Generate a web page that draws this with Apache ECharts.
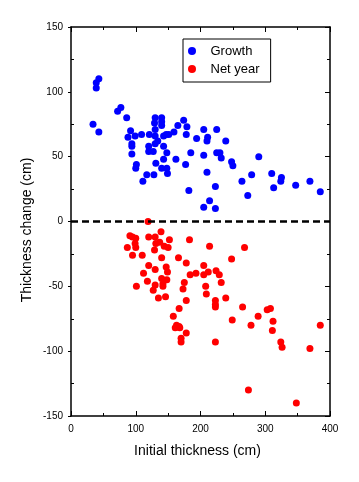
<!DOCTYPE html>
<html>
<head>
<meta charset="utf-8">
<script src="https://cdn.jsdelivr.net/npm/echarts@6/dist/echarts.min.js"></script>
<style>
html,body{margin:0;padding:0;background:#fff;}
#c{width:359px;height:482px;}
</style>
</head>
<body>
<div id="c"></div>
<script>
var xTicks = [0, 100, 200, 300, 400];
var yTicks = [-150, -100, -50, 0, 50, 100, 150];
var xTitle = 'Initial thickness (cm)';
var yTitle = 'Thickness change (cm)';

var growth = [
  [43,110],[39,107],[39,103],
  [77,88],[72,85],[86,80],
  [34,75],[43,69],
  [92,70],[88,65],[99,66],[109,67],[121,67],
  [130,80],[129,76],[130,71],[130,66],
  [140,80],[140,77],[140,74],
  [165,74],[174,78],[179,73],[159,69],[143,66],[147,67],[151,67],[178,67],
  [205,71],[194,64],[211,65],[225,71],[239,62],[210,62],
  [94,60],[94,58],[94,52],[120,58],[120,54],[127,54],[130,60],[134,62],
  [143,58],[148,53],[131,45],[143,48],[162,48],[185,53],[205,51],[177,44],
  [101,44],[100,41],[140,41],[148,41],[149,37],[117,36],[128,36],[111,31],
  [210,38],[182,24],[214,16],[205,11],
  [225,53],[230,53],[232,49],[248,46],[250,43],[290,50],[223,27],[264,31],
  [279,36],[310,37],[325,34],[324,31],[313,26],[347,28],[369,31],[385,23],
  [273,20],[223,10]
];

var netYear = [
  [119,0],[91,-11],[95,-12],[100,-13],[99,-17],[100,-20],[87,-20],[95,-26],[110,-26],
  [120,-12],[130,-12],[139,-8],[152,-14],[131,-17],[137,-16],[129,-22],[144,-19],[150,-20],
  [140,-28],[166,-28],[183,-14],[178,-32],[214,-19],[120,-34],[130,-37],[147,-35],[149,-39],
  [112,-40],[184,-41],[193,-40],[205,-34],[212,-39],[205,-41],[118,-46],[140,-44],[148,-45],
  [142,-48],[130,-49],[101,-50],[127,-53],[142,-50],[175,-47],[173,-52],[135,-59],[146,-58],
  [178,-61],[208,-50],[209,-56],[167,-67],[158,-73],[163,-80],[167,-81],[161,-82],[168,-82],
  [178,-86],[170,-90],[170,-93],
  [268,-20],[248,-29],[224,-38],[229,-41],[232,-47],[239,-59],[223,-61],[223,-64],[223,-66],
  [265,-66],[249,-76],[278,-80],[289,-73],[303,-68],[308,-67],[312,-77],[385,-80],[311,-84],
  [223,-93],[324,-93],[326,-97],[369,-98],[274,-130],[348,-140]
];

var FONT = 'Liberation Sans, Arial, sans-serif';
var axisLineStyle = {color:'#000', width:1.5};

var chart = echarts.init(document.getElementById('c'), null, {renderer:'canvas'});
chart.setOption({
  animation:false,
  backgroundColor:'#fff',
  grid:{left:71, right:29, top:27, bottom:66, show:false},
  graphic:[{
    type:'text', x:197.5, y:451,
    style:{text:xTitle, fontFamily:FONT, fontSize:14, fill:'#000', align:'center', verticalAlign:'middle'}
  },{
    type:'text', x:27.5, y:230, rotation:Math.PI/2,
    style:{text:yTitle, fontFamily:FONT, fontSize:14, fill:'#000', align:'center', verticalAlign:'middle'}
  }],
  legend:{
    left:183, top:39, orient:'vertical',
    data:['Growth','Net year'],
    icon:'circle',
    itemWidth:27, itemHeight:8, itemGap:4,
    padding:[5,11,6,5],
    borderColor:'#000', borderWidth:1,
    backgroundColor:'#fff',
    textStyle:{fontFamily:FONT, fontSize:13, color:'#000', lineHeight:14}
  },
  xAxis:[{
    type:'value', min:xTicks[0], max:xTicks[xTicks.length-1], interval:100,
    position:'bottom',
    axisLine:{show:true, onZero:false, lineStyle:axisLineStyle},
    axisTick:{show:true, inside:true, length:5, lineStyle:{color:'#000', width:1}},
    minorTick:{show:true, splitNumber:2, length:3, lineStyle:{color:'#000', width:1}},
    axisLabel:{fontFamily:FONT, fontSize:10, color:'#000', margin:8},
    splitLine:{show:false}
  },{
    type:'value', min:0, max:400, interval:100, position:'top',
    axisLine:{show:true, onZero:false, lineStyle:axisLineStyle},
    axisTick:{show:true, inside:true, length:5, lineStyle:{color:'#000', width:1}},
    minorTick:{show:true, splitNumber:2, length:3, lineStyle:{color:'#000', width:1}},
    axisLabel:{show:false}, splitLine:{show:false}
  }],
  yAxis:[{
    type:'value', min:yTicks[0], max:yTicks[yTicks.length-1], interval:50,
    position:'left',
    axisLine:{show:true, onZero:false, lineStyle:axisLineStyle},
    axisTick:{show:true, inside:false, length:3, lineStyle:{color:'#000', width:1}},
    axisLabel:{fontFamily:FONT, fontSize:10, color:'#000', margin:8},
    splitLine:{show:false}
  },{
    type:'value', min:-150, max:150, interval:50, position:'left',
    axisLine:{show:false},
    axisTick:{show:false, inside:true},
    minorTick:{show:true, splitNumber:2, length:3, lineStyle:{color:'#000', width:1}},
    axisLabel:{show:false}, splitLine:{show:false}
  },{
    type:'value', min:-150, max:150, interval:50, position:'right',
    axisLine:{show:true, onZero:false, lineStyle:axisLineStyle},
    axisTick:{show:true, inside:true, length:5, lineStyle:{color:'#000', width:1}},
    minorTick:{show:true, splitNumber:2, length:3, lineStyle:{color:'#000', width:1}},
    axisLabel:{show:false}, splitLine:{show:false}
  }],
  series:[{
    name:'Growth', type:'scatter', data:growth, symbolSize:7,
    itemStyle:{color:'#0000ff', opacity:1},
    markLine:{
      silent:true, symbol:['none','none'], label:{show:false},
      lineStyle:{color:'#000', width:2.5, type:[7,4]},
      data:[{yAxis:0}]
    }
  },{
    name:'Net year', type:'scatter', data:netYear, symbolSize:7,
    itemStyle:{color:'#ff0000', opacity:1}
  }]
});
</script>
</body>
</html>
